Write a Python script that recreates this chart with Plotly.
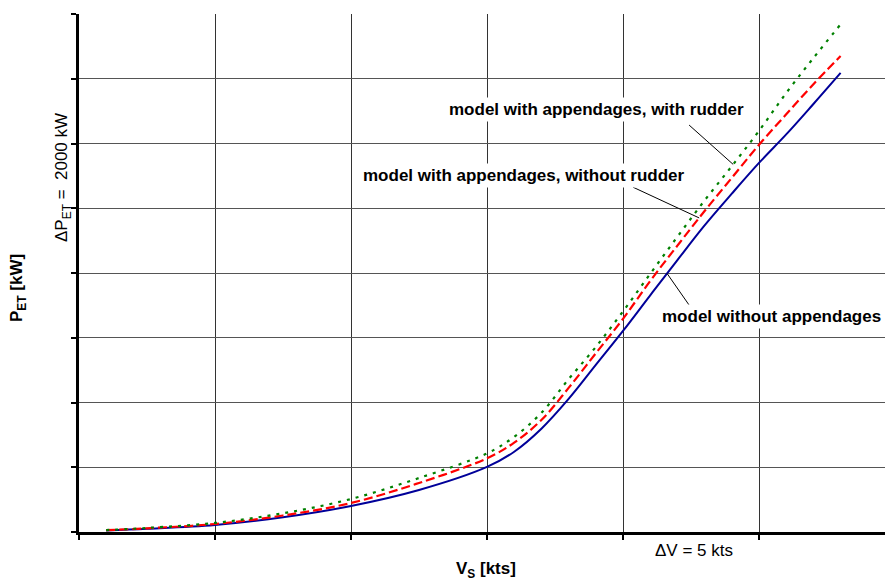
import numpy as np
import plotly.graph_objects as go

# Ship speed [kts]
speed = [1, 2.5, 5, 7.5, 10, 12.5, 15, 16, 17, 18, 19, 20, 21, 22, 23, 24, 25, 26, 27, 28]

# Effective towing power [kW]
p_bare = [50, 100, 216, 454, 803, 1297, 2010, 2480, 3190, 4110, 5160, 6210, 7310, 8400,
          9470, 10450, 11400, 12280, 13220, 14180]
p_app_no_rudder = [55, 115, 247, 510, 896, 1514, 2276, 2760, 3460, 4450, 5520, 6585, 7755,
                   8845, 9915, 10940, 11960, 12900, 13830, 14700]
p_app_rudder = [60, 125, 280, 578, 1019, 1668, 2430, 2940, 3680, 4720, 5715, 6815, 7975,
                9120, 10240, 11300, 12390, 13560, 14640, 15680]

series_names = ["model without appendages",
                "model with appendages, without rudder",
                "model with appendages, with rudder"]

W, H = 885, 582
ML, MR, MT, MB = 79, 0, 14, 50
pw, ph = W - ML - MR, H - MT - MB
x_max = pw / 136 * 5          # 5 kts per grid cell
y_max = 16000

FONT = "Liberation Sans, Arial, sans-serif"
SMOOTH = 1.0

fig = go.Figure()
fig.add_trace(go.Scatter(x=speed, y=p_bare, mode="lines", name=series_names[0],
                         line=dict(color="#000099", width=2, shape="spline", smoothing=SMOOTH)))
fig.add_trace(go.Scatter(x=speed, y=p_app_no_rudder, mode="lines", name=series_names[1],
                         line=dict(color="#ff0000", width=2.2, dash="9px,4px",
                                   shape="spline", smoothing=SMOOTH)))
fig.add_trace(go.Scatter(x=speed, y=p_app_rudder, mode="lines", name=series_names[2],
                         line=dict(color="#008000", width=2.2, dash="3px,6px",
                                   shape="spline", smoothing=SMOOTH)))


def px_to_paper(px, py):
    return (px - ML) / pw, (H - MB - py) / ph


# leader lines: from a point near each label to the curve
leaders = [
    (p_app_rudder, 24.05, 22.43, 12570),
    (p_app_no_rudder, 22.8, 20.37, 10650),
    (p_bare, 21.62, 22.43, 7010),
]
for vals, v_at, x0, y0 in leaders:
    fig.add_shape(type="line", xref="x", yref="y", x0=x0, y0=y0,
                  x1=v_at, y1=float(np.interp(v_at, speed, vals)),
                  line=dict(color="black", width=1))

labels = [
    (series_names[2], 19.04, 13035),
    (series_names[1], 16.36, 11027),
    (series_names[0], 25.46, 6656),
]
for text, lx, ly in labels:
    fig.add_annotation(x=lx, y=ly, xref="x", yref="y", text="<b>%s</b>" % text,
                       showarrow=False, bgcolor="white", borderpad=2,
                       xanchor="center", yanchor="middle",
                       font=dict(family=FONT, size=17, color="black"))

texts = [
    ("<b>P<sub>ET</sub> [kW]</b>", 18, 288, -90),
    ("\u0394P<sub>ET</sub> =  2000 kW", 63, 178, -90),
    ("<b>V<sub>S</sub> [kts]</b>", 486, 570, 0),
    ("\u0394V = 5 kts", 694, 550, 0),
]
for text, px, py, ang in texts:
    ax_, ay_ = px_to_paper(px, py)
    fig.add_annotation(x=ax_, y=ay_, xref="paper", yref="paper", text=text,
                       textangle=ang, showarrow=False, xanchor="center", yanchor="middle",
                       font=dict(family=FONT, size=17, color="black"))

fig.update_xaxes(range=[0, x_max], dtick=5, tick0=0, showticklabels=False,
                 showgrid=True, gridcolor="#333333", gridwidth=1,
                 showline=True, linecolor="black", linewidth=2.5,
                 ticks="outside", ticklen=5, tickwidth=2, tickcolor="black",
                 zeroline=False, fixedrange=True)
fig.update_yaxes(range=[0, y_max], dtick=2000, tick0=0, showticklabels=False,
                 showgrid=True, gridcolor="#555555", gridwidth=1.3,
                 showline=True, linecolor="black", linewidth=2.5,
                 ticks="outside", ticklen=5, tickwidth=2, tickcolor="black",
                 zeroline=False, fixedrange=True)

fig.update_layout(width=W, height=H, margin=dict(l=ML, r=MR, t=MT, b=MB),
                  paper_bgcolor="white", plot_bgcolor="white", showlegend=False,
                  font=dict(family=FONT))

fig.write_html("out.html")
